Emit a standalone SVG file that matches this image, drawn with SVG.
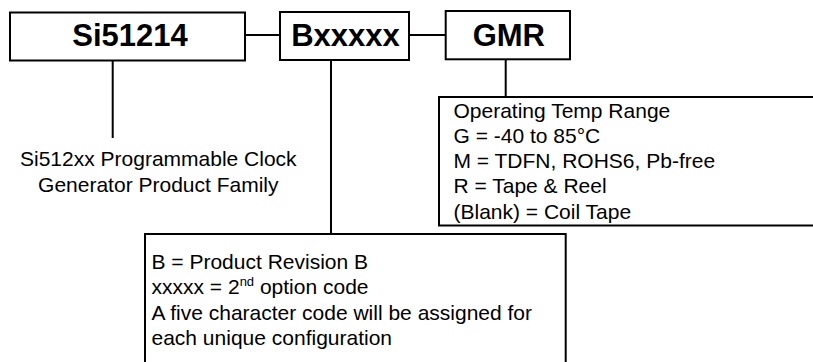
<svg xmlns="http://www.w3.org/2000/svg" width="813" height="362" viewBox="0 0 813 362">
<style>
.box{fill:#fff;stroke:#000;stroke-width:2}
.ln{stroke:#000;stroke-width:2;fill:none}
.t{font-family:"Liberation Sans",Arial,sans-serif;font-weight:bold;font-size:31px;text-anchor:middle;fill:#000}
.d{font-family:"Liberation Sans",Arial,sans-serif;font-size:21px;fill:#000}
</style>
<rect width="813" height="362" fill="#fff"/>
<g id="connectors">
<line class="ln" x1="245" y1="35" x2="280" y2="35"/>
<line class="ln" x1="409" y1="35" x2="446" y2="35"/>
<line class="ln" x1="112.7" y1="61" x2="112.7" y2="138"/>
<line class="ln" x1="331" y1="60" x2="331" y2="234"/>
<line class="ln" x1="505.7" y1="59" x2="505.7" y2="97"/>
</g>
<g id="node-si51214">
<rect class="box" x="10" y="12.5" width="235" height="48"/>
<text class="t" x="130" y="46">Si51214</text>
</g>
<g id="node-bxxxxx">
<rect class="box" x="280" y="12" width="129" height="48"/>
<text class="t" x="345.5" y="45.5">Bxxxxx</text>
</g>
<g id="node-gmr">
<rect class="box" x="445.7" y="11" width="124.3" height="48.3"/>
<text class="t" x="508.8" y="45.5">GMR</text>
</g>
<g id="node-family">
<text class="d" x="158.3" y="166" text-anchor="middle">Si512xx Programmable Clock</text>
<text class="d" x="158.3" y="191.5" text-anchor="middle">Generator Product Family</text>
</g>
<g id="node-gmr-desc">
<rect class="box" x="439" y="97" width="380" height="128.5"/>
<text class="d" x="453.5" y="117.5">Operating Temp Range</text>
<text class="d" x="453.5" y="142.75">G = -40 to 85°C</text>
<text class="d" x="453.5" y="168">M = TDFN, ROHS6, Pb-free</text>
<text class="d" x="453.5" y="193.25">R = Tape &amp; Reel</text>
<text class="d" x="453.5" y="218.5">(Blank) = Coil Tape</text>
</g>
<g id="node-b-desc">
<rect class="box" x="145" y="234" width="420.7" height="140"/>
<text class="d" x="151.5" y="268.5">B = Product Revision B</text>
<text class="d" x="151.5" y="294">xxxxx = 2<tspan font-size="13" dy="-8">nd</tspan><tspan dy="8"> option code</tspan></text>
<text class="d" x="151.5" y="319.5">A five character code will be assigned for</text>
<text class="d" x="151.5" y="345">each unique configuration</text>
</g>
</svg>
